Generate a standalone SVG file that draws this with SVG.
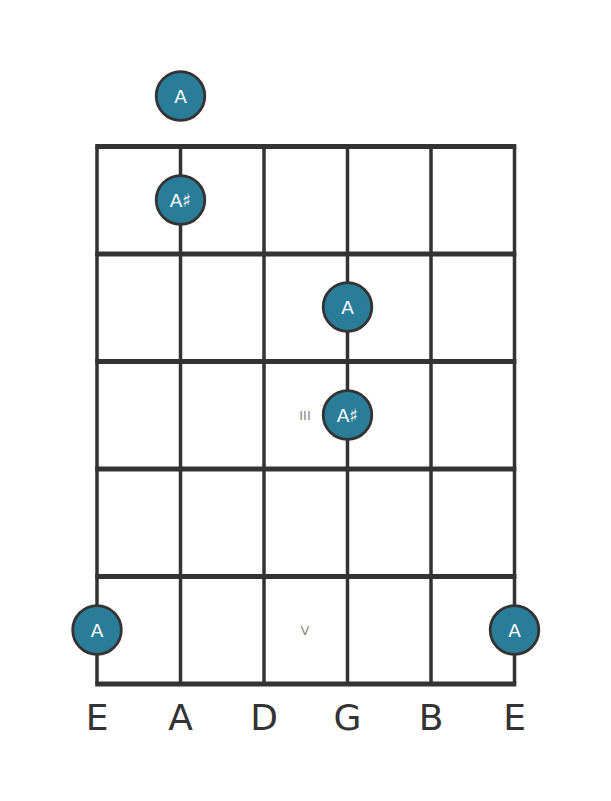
<svg xmlns="http://www.w3.org/2000/svg" width="611" height="801" viewBox="0 0 611 801">
<style>
.fret{stroke:#333;stroke-width:5;fill:none}
.str{stroke:#333;stroke-width:3.5;fill:none}
.dot{fill:#2a7d98;stroke:#333;stroke-width:2.8}
.nl{font-family:"DejaVu Sans","Noto Sans",sans-serif;font-size:18.5px;fill:#fff;text-anchor:middle}
.sl{font-family:"DejaVu Sans","Noto Sans",sans-serif;font-size:36px;fill:#333;text-anchor:middle}
.pos{font-family:"DejaVu Sans","Noto Sans",sans-serif;font-size:13px;fill:#888;text-anchor:middle}
</style>
<rect width="611" height="801" fill="#fff"/>
<g id="connectors">
<line class="str" x1="97" y1="146.5" x2="97" y2="684"/>
<line class="str" x1="180.5" y1="146.5" x2="180.5" y2="684"/>
<line class="str" x1="264" y1="146.5" x2="264" y2="684"/>
<line class="str" x1="347.5" y1="146.5" x2="347.5" y2="684"/>
<line class="str" x1="431" y1="146.5" x2="431" y2="684"/>
<line class="str" x1="514.5" y1="146.5" x2="514.5" y2="684"/>
<line class="fret" x1="95.2" y1="146.5" x2="516.3" y2="146.5"/>
<line class="fret" x1="95.2" y1="254" x2="516.3" y2="254"/>
<line class="fret" x1="95.2" y1="361.5" x2="516.3" y2="361.5"/>
<line class="fret" x1="95.2" y1="469" x2="516.3" y2="469"/>
<line class="fret" x1="95.2" y1="576.5" x2="516.3" y2="576.5"/>
<line class="fret" x1="95.2" y1="684" x2="516.3" y2="684"/>
</g>
<g id="pos-III"><text class="pos" x="305" y="420">III</text></g>
<g id="pos-V"><text class="pos" x="305" y="635">V</text></g>
<g id="n-open-A"><circle class="dot" cx="180.5" cy="96" r="24.3"/><text class="nl" x="180.5" y="102.5">A</text></g>
<g id="n-As1"><circle class="dot" cx="180.5" cy="200" r="24.3"/><text class="nl" x="180.5" y="206.5">A♯</text></g>
<g id="n-A2"><circle class="dot" cx="347.5" cy="307" r="24.3"/><text class="nl" x="347.5" y="313.5">A</text></g>
<g id="n-As3"><circle class="dot" cx="347.5" cy="415" r="24.3"/><text class="nl" x="347.5" y="421.5">A♯</text></g>
<g id="n-A5a"><circle class="dot" cx="97" cy="630" r="24.3"/><text class="nl" x="97" y="636.5">A</text></g>
<g id="n-A5b"><circle class="dot" cx="514.5" cy="630" r="24.3"/><text class="nl" x="514.5" y="636.5">A</text></g>
<g id="strings-labels">
<text class="sl" x="97" y="730">E</text>
<text class="sl" x="180.5" y="730">A</text>
<text class="sl" x="264" y="730">D</text>
<text class="sl" x="347.5" y="730">G</text>
<text class="sl" x="431" y="730">B</text>
<text class="sl" x="514.5" y="730">E</text>
</g>
</svg>
